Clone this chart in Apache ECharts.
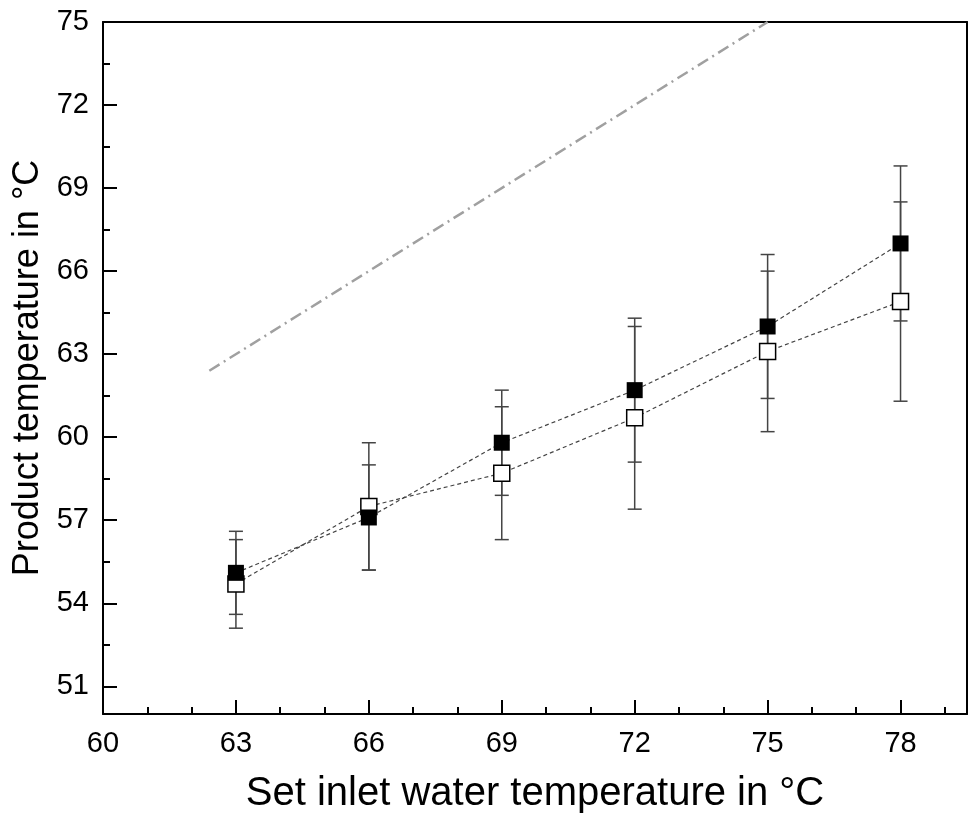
<!DOCTYPE html>
<html>
<head>
<meta charset="utf-8">
<script src="https://cdn.jsdelivr.net/npm/echarts@6/dist/echarts.min.js"></script>
<style>
html,body{margin:0;padding:0;background:#fff;}
#chart{width:970px;height:819px;}
</style>
</head>
<body>
<div id="chart"></div>
<script>
// ---- data ----
var setTemps = [63, 66, 69, 72, 75, 78];
var filledMean = [55.1, 57.1, 59.8, 61.7, 64.0, 67.0];
var filledErr  = [1.5, 1.9, 1.9, 2.6, 2.6, 2.8];
var openMean   = [54.7, 57.5, 58.7, 60.7, 63.1, 64.9];
var openErr    = [1.6, 2.3, 2.4, 3.3, 2.9, 3.6];
var identityX  = [62.4, 75];
var xMajorTicks = [60, 63, 66, 69, 72, 75, 78];
var xMinorTicks = [61, 62, 64, 65, 67, 68, 70, 71, 73, 74, 76, 77, 79];
var yMajorTicks = [51, 54, 57, 60, 63, 66, 69, 72, 75];
var yMinorTicks = [52.5, 55.5, 58.5, 61.5, 64.5, 67.5, 70.5, 73.5];

var FONT = 'Liberation Sans, Arial, sans-serif';

function pairs(xs, ys) { return xs.map(function (x, i) { return [x, ys[i]]; }); }

var errData = [];
setTemps.forEach(function (x, i) {
  errData.push([x, filledMean[i] - filledErr[i], filledMean[i] + filledErr[i]]);
  errData.push([x, openMean[i] - openErr[i], openMean[i] + openErr[i]]);
});

var chart = echarts.init(document.getElementById('chart'), null, {renderer: 'canvas'});

var axisLineStyle = {color: '#000', width: 2};

chart.setOption({
  animation: false,
  backgroundColor: '#fff',
  grid: {left: 103, right: 3, top: 22, bottom: 102, containLabel: false},
  xAxis: [
    {
      type: 'value', min: 60, max: 79.5, position: 'bottom',
      axisLine: {show: true, onZero: false, lineStyle: axisLineStyle},
      axisTick: {show: true, inside: true, length: 14, customValues: xMajorTicks, lineStyle: {color: '#000', width: 2}},
      axisLabel: {show: true, customValues: xMajorTicks, fontSize: 29, color: '#000', fontFamily: FONT, margin: 15},
      splitLine: {show: false},
      name: 'Set inlet water temperature in °C',
      nameLocation: 'middle', nameGap: 60,
      nameTextStyle: {fontSize: 40, color: '#000', fontFamily: FONT}
    },
    {
      type: 'value', min: 60, max: 79.5, position: 'bottom',
      axisLine: {show: false, onZero: false},
      axisTick: {show: true, inside: true, length: 7, customValues: xMinorTicks, lineStyle: {color: '#000', width: 2}},
      axisLabel: {show: false},
      splitLine: {show: false}
    },
    {
      type: 'value', min: 60, max: 79.5, position: 'top',
      axisLine: {show: true, onZero: false, lineStyle: axisLineStyle},
      axisTick: {show: false}, axisLabel: {show: false}, splitLine: {show: false}
    }
  ],
  yAxis: [
    {
      type: 'value', min: 50, max: 75, position: 'left',
      axisLine: {show: true, onZero: false, lineStyle: axisLineStyle},
      axisTick: {show: true, inside: true, length: 14, customValues: yMajorTicks, lineStyle: {color: '#000', width: 2}},
      axisLabel: {show: true, customValues: yMajorTicks, fontSize: 29, color: '#000', fontFamily: FONT, margin: 14},
      splitLine: {show: false},
      name: 'Product temperature in °C',
      nameLocation: 'middle', nameGap: 56,
      nameTextStyle: {fontSize: 36, color: '#000', fontFamily: FONT}
    },
    {
      type: 'value', min: 50, max: 75, position: 'left',
      axisLine: {show: false, onZero: false},
      axisTick: {show: true, inside: true, length: 7, customValues: yMinorTicks, lineStyle: {color: '#000', width: 2}},
      axisLabel: {show: false},
      splitLine: {show: false}
    },
    {
      type: 'value', min: 50, max: 75, position: 'right',
      axisLine: {show: true, onZero: false, lineStyle: axisLineStyle},
      axisTick: {show: false}, axisLabel: {show: false}, splitLine: {show: false}
    }
  ],
  series: [
    {
      type: 'line', name: 'identity',
      data: pairs(identityX, identityX),
      symbol: 'none',
      lineStyle: {color: '#a0a0a0', width: 2.5, type: [12, 5, 2, 5]},
      z: 1
    },
    {
      type: 'custom', name: 'errors',
      data: errData,
      renderItem: function (params, api) {
        var x = api.value(0);
        var lo = api.coord([x, api.value(1)]);
        var hi = api.coord([x, api.value(2)]);
        var hw = 7;
        var st = {stroke: '#444', lineWidth: 1.5};
        return {
          type: 'group',
          children: [
            {type: 'line', shape: {x1: lo[0], y1: lo[1], x2: hi[0], y2: hi[1]}, style: st},
            {type: 'line', shape: {x1: lo[0] - hw, y1: lo[1], x2: lo[0] + hw, y2: lo[1]}, style: st},
            {type: 'line', shape: {x1: hi[0] - hw, y1: hi[1], x2: hi[0] + hw, y2: hi[1]}, style: st}
          ]
        };
      },
      z: 2
    },
    {
      type: 'line', name: 'open',
      data: pairs(setTemps, openMean),
      symbol: 'rect', symbolSize: 16,
      itemStyle: {color: '#fff', borderColor: '#000', borderWidth: 1.5},
      lineStyle: {color: '#444', width: 1.2, type: [4, 3]},
      z: 3
    },
    {
      type: 'line', name: 'filled',
      data: pairs(setTemps, filledMean),
      symbol: 'rect', symbolSize: 16,
      itemStyle: {color: '#000', borderColor: '#000', borderWidth: 0},
      lineStyle: {color: '#444', width: 1.2, type: [4, 3]},
      z: 4
    }
  ]
});
</script>
</body>
</html>
